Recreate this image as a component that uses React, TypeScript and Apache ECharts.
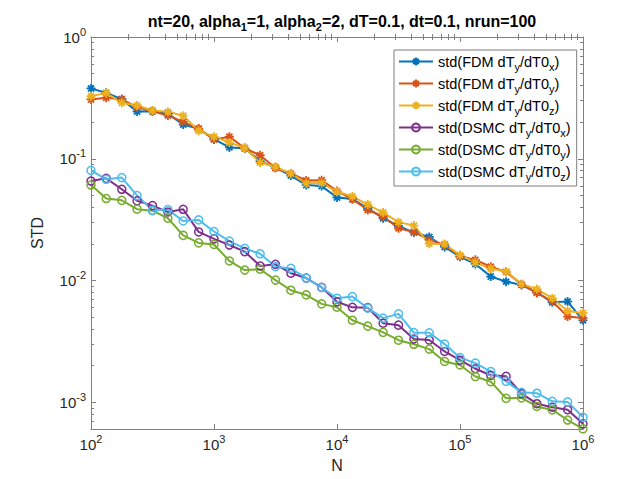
import React, { useEffect, useRef } from "react";
import * as echarts from "echarts";

const N = [100, 133, 178, 237, 316, 422, 562, 750, 1000, 1334, 1778, 2371, 3162, 4217, 5623, 7499, 10000, 13335, 17783, 23714, 31623, 42170, 56234, 74989, 100000, 133352, 177828, 237137, 316228, 421697, 562341, 749894, 1000000];

const fdmX = [0.378, 0.348, 0.309, 0.244, 0.246, 0.235, 0.191, 0.176, 0.145, 0.124, 0.122, 0.0957, 0.0847, 0.0728, 0.0609, 0.0597, 0.0481, 0.0467, 0.0394, 0.0325, 0.0281, 0.0248, 0.0228, 0.0189, 0.0157, 0.0137, 0.0108, 0.00981, 0.00922, 0.008, 0.00663, 0.00673, 0.00472];
const fdmY = [0.307, 0.317, 0.308, 0.265, 0.246, 0.227, 0.201, 0.177, 0.144, 0.152, 0.122, 0.107, 0.0839, 0.0759, 0.0665, 0.0668, 0.0543, 0.0466, 0.038, 0.0336, 0.0269, 0.0251, 0.0216, 0.0196, 0.0159, 0.0148, 0.013, 0.0118, 0.00931, 0.00793, 0.00675, 0.00507, 0.00494];
const fdmZ = [0.327, 0.347, 0.288, 0.274, 0.249, 0.243, 0.226, 0.17, 0.152, 0.136, 0.123, 0.0931, 0.086, 0.0755, 0.0629, 0.0632, 0.0536, 0.0492, 0.0421, 0.0362, 0.0302, 0.0283, 0.0201, 0.02, 0.0162, 0.0141, 0.0125, 0.0119, 0.0094, 0.00852, 0.00717, 0.00564, 0.00543];
const dsmcX = [0.0657, 0.0691, 0.0562, 0.0452, 0.0413, 0.0366, 0.0385, 0.0251, 0.022, 0.0196, 0.0173, 0.0132, 0.0136, 0.0115, 0.0105, 0.0088, 0.0067, 0.00603, 0.006, 0.00447, 0.00431, 0.00332, 0.00325, 0.00262, 0.00222, 0.00189, 0.00167, 0.00164, 0.00118, 0.000976, 0.000913, 0.000871, 0.000667];
const dsmcY = [0.0609, 0.0472, 0.0456, 0.0386, 0.0375, 0.0325, 0.0235, 0.0204, 0.0198, 0.0145, 0.0122, 0.0124, 0.0101, 0.00834, 0.00763, 0.00644, 0.00605, 0.00473, 0.00423, 0.00376, 0.00324, 0.003, 0.00274, 0.00217, 0.00203, 0.00163, 0.00148, 0.00108, 0.00109, 0.000927, 0.000868, 0.000717, 0.000607];
const dsmcZ = [0.0803, 0.0679, 0.0701, 0.0499, 0.0378, 0.0383, 0.0309, 0.0315, 0.0253, 0.0211, 0.0184, 0.0166, 0.013, 0.0126, 0.0105, 0.00878, 0.00717, 0.00739, 0.00594, 0.00492, 0.00533, 0.00374, 0.00373, 0.00301, 0.00233, 0.0021, 0.00179, 0.00149, 0.00121, 0.00119, 0.00102, 0.00101, 0.000756];

const seriesNames = ["FDM_x", "FDM_y", "FDM_z", "DSMC_x", "DSMC_y", "DSMC_z"];
const legendTexts = [
  "std(FDM dT{sub|y}/dT0{sub|x})",
  "std(FDM dT{sub|y}/dT0{sub|y})",
  "std(FDM dT{sub|y}/dT0{sub|z})",
  "std(DSMC dT{sub|y}/dT0{sub|x})",
  "std(DSMC dT{sub|y}/dT0{sub|y})",
  "std(DSMC dT{sub|y}/dT0{sub|z})",
];
const colors = ["#0072BD", "#D95319", "#EDB120", "#7E2F8E", "#77AC30", "#4DBEEE"];
const allValues = [fdmX, fdmY, fdmZ, dsmcX, dsmcY, dsmcZ];

const xMajor = [2, 3, 4, 5, 6];
const yMajor = [-3, -2, -1, 0];
const xMin = 2;
const xMax = 6;
const yMinValue = 0.000605;
const yMaxValue = 1;

const FONT = "'Liberation Sans', Arial, Helvetica, sans-serif";
const AXIS_COLOR = "#808080";
const TEXT_COLOR = "#262626";

const ASTERISK = "path://M5 0L5 10M0 5L10 5M1.6 1.6L8.4 8.4M1.6 8.4L8.4 1.6";

function minorTicks(lo: number, hi: number) {
  const out: number[] = [];
  for (let d = Math.floor(lo) - 1; d <= Math.ceil(hi); d++) {
    for (let k = 2; k <= 9; k++) {
      const v = d + Math.log10(k);
      if (v > lo && v < hi) out.push(v);
    }
  }
  return out;
}

export default function App() {
  const ref = useRef<HTMLDivElement>(null);
  useEffect(() => {
    if (!ref.current) return;
    const chart = echarts.init(ref.current, undefined, { renderer: "svg" });
    const yMin = Math.log10(yMinValue);
    const yMax = Math.log10(yMaxValue);
    const xMinor = minorTicks(xMin, xMax);
    const yMinor = minorTicks(yMin, yMax);

    const powLabel = (v: number) => `{b|10}{p|${Math.round(v)}}`;
    const labelRich = {
      b: { fontSize: 15, fontFamily: FONT, color: TEXT_COLOR },
      p: { fontSize: 11, fontFamily: FONT, color: TEXT_COLOR, padding: [0, 0, 11, 0] },
    };

    const baseAxis = (extra: any) => ({
      type: "value",
      splitLine: { show: false },
      axisLine: { show: true, onZero: false, lineStyle: { color: AXIS_COLOR, width: 1 } },
      ...extra,
    });

    const xAxes = [
      baseAxis({
        position: "bottom",
        min: xMin,
        max: xMax,
        name: "N",
        nameLocation: "middle",
        nameGap: 28,
        nameTextStyle: { fontSize: 16, fontFamily: FONT, color: TEXT_COLOR },
        axisTick: { show: true, inside: true, length: 5, customValues: xMajor, lineStyle: { color: AXIS_COLOR } },
        axisLabel: { show: true, margin: 4, customValues: xMajor, formatter: powLabel, rich: labelRich },
      }),
      baseAxis({
        position: "bottom",
        min: xMin,
        max: xMax,
        axisLine: { show: false },
        axisTick: { show: true, inside: true, length: 3, customValues: xMinor, lineStyle: { color: AXIS_COLOR } },
        axisLabel: { show: false },
      }),
      baseAxis({
        position: "top",
        min: xMin,
        max: xMax,
        axisTick: { show: true, inside: true, length: 5, customValues: xMajor, lineStyle: { color: AXIS_COLOR } },
        axisLabel: { show: false },
      }),
      baseAxis({
        position: "top",
        min: xMin,
        max: xMax,
        axisLine: { show: false },
        axisTick: { show: true, inside: true, length: 3, customValues: xMinor, lineStyle: { color: AXIS_COLOR } },
        axisLabel: { show: false },
      }),
    ];

    const yAxes = [
      baseAxis({
        position: "left",
        min: yMin,
        max: yMax,
        name: "STD",
        nameLocation: "middle",
        nameGap: 46,
        nameRotate: 90,
        nameTextStyle: { fontSize: 16, fontFamily: FONT, color: TEXT_COLOR },
        axisTick: { show: true, inside: true, length: 5, customValues: yMajor, lineStyle: { color: AXIS_COLOR } },
        axisLabel: { show: true, margin: 5, customValues: yMajor, formatter: powLabel, rich: labelRich },
      }),
      baseAxis({
        position: "left",
        min: yMin,
        max: yMax,
        axisLine: { show: false },
        axisTick: { show: true, inside: true, length: 3, customValues: yMinor, lineStyle: { color: AXIS_COLOR } },
        axisLabel: { show: false },
      }),
      baseAxis({
        position: "right",
        min: yMin,
        max: yMax,
        axisTick: { show: true, inside: true, length: 5, customValues: yMajor, lineStyle: { color: AXIS_COLOR } },
        axisLabel: { show: false },
      }),
      baseAxis({
        position: "right",
        min: yMin,
        max: yMax,
        axisLine: { show: false },
        axisTick: { show: true, inside: true, length: 3, customValues: yMinor, lineStyle: { color: AXIS_COLOR } },
        axisLabel: { show: false },
      }),
    ];

    const series = allValues.map((vals, si) => {
      const isFdm = si < 3;
      return {
        name: seriesNames[si],
        type: "line",
        xAxisIndex: 0,
        yAxisIndex: 0,
        data: N.map((n, i) => [Math.log10(n), Math.log10(vals[i])]),
        symbol: isFdm ? ASTERISK : "circle",
        symbolSize: isFdm ? 9 : 8,
        showSymbol: true,
        clip: false,
        lineStyle: { color: colors[si], width: 2 },
        itemStyle: isFdm
          ? { color: colors[si], borderColor: colors[si], borderWidth: 1.8 }
          : { color: "rgba(255,255,255,0)", borderColor: colors[si], borderWidth: 1.5 },
        emphasis: { disabled: true },
      };
    });

    const legendMap: Record<string, string> = {};
    seriesNames.forEach((n, i) => (legendMap[n] = legendTexts[i]));

    chart.setOption({
      animation: false,
      backgroundColor: "#ffffff",
      title: {
        text: "nt=20, alpha{sub|1}=1, alpha{sub|2}=2, dT=0.1, dt=0.1, nrun=100",
        left: 337,
        top: 5,
        textAlign: "center",
        textStyle: {
          fontSize: 16,
          fontWeight: "bold",
          fontFamily: FONT,
          color: "#000",
          rich: {
            sub: { fontSize: 11, fontWeight: "bold", fontFamily: FONT, color: "#000", padding: [11, 0, 0, 0] },
          },
        },
      },
      grid: { left: 91, top: 37, width: 492, height: 392, containLabel: false },
      xAxis: xAxes,
      yAxis: yAxes,
      legend: {
        orient: "vertical",
        left: 394,
        top: 50,
        padding: [4, 6, 4, 4],
        itemGap: 4,
        itemWidth: 34,
        itemHeight: 10,
        backgroundColor: "#ffffff",
        borderColor: "#7f7f7f",
        borderWidth: 1,
        borderRadius: 0,
        data: seriesNames,
        formatter: (name: string) => legendMap[name],
        textStyle: {
          fontSize: 14.5,
          fontFamily: FONT,
          color: "#000",
          padding: [0, 0, 0, 0],
          rich: {
            sub: { fontSize: 11, fontFamily: FONT, color: "#000", padding: [10, 0, 0, 0] },
          },
        },
      },
      series,
    });
    return () => chart.dispose();
  }, []);
  return (
    <div
      ref={ref}
      style={{ position: "fixed", left: 0, top: 0, width: 636, height: 479, background: "#fff" }}
    />
  );
}
